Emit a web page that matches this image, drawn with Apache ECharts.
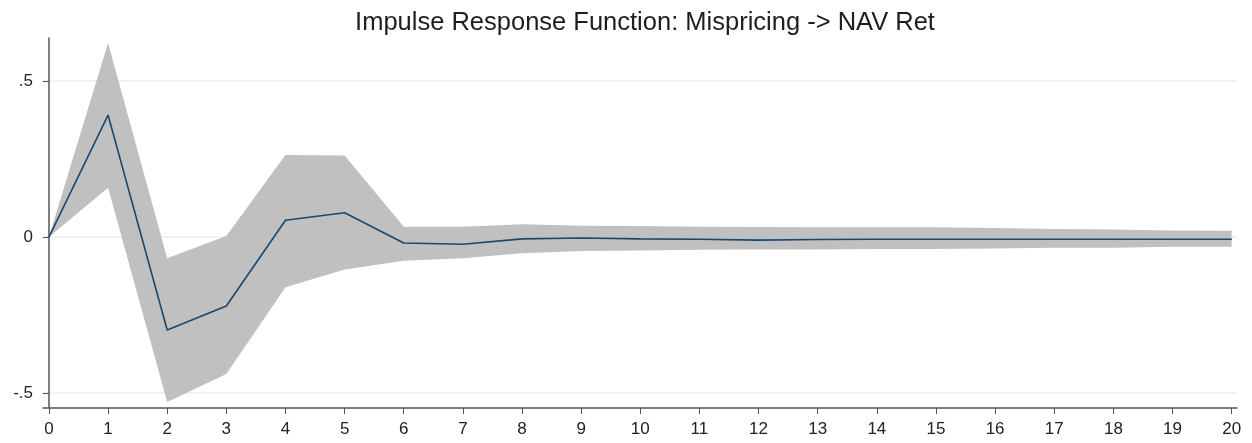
<!DOCTYPE html>
<html>
<head>
<meta charset="utf-8">
<script src="https://cdn.jsdelivr.net/npm/echarts@6/dist/echarts.min.js"></script>
<style>
  html, body { margin: 0; padding: 0; background: #fff; }
  #chart { width: 1252px; height: 443px; }
</style>
</head>
<body>
<div id="chart"></div>
<script>
// horizon steps
const steps = [0, 1, 2, 3, 4, 5, 6, 7, 8, 9, 10, 11, 12, 13, 14, 15, 16, 17, 18, 19, 20];
// impulse response (Mispricing -> NAV Ret)
const irf = [0, 0.391, -0.298, -0.221, 0.054, 0.078, -0.019, -0.023, -0.006, -0.003, -0.006,
    -0.007, -0.010, -0.008, -0.007, -0.007, -0.007, -0.007, -0.007, -0.007, -0.007];
// confidence band
const upper = [0, 0.622, -0.068, 0.003, 0.263, 0.261, 0.033, 0.033, 0.041, 0.036, 0.035,
    0.033, 0.032, 0.031, 0.031, 0.031, 0.029, 0.026, 0.024, 0.021, 0.020];
const lower = [0, 0.158, -0.529, -0.439, -0.161, -0.104, -0.076, -0.068, -0.052, -0.045, -0.043,
    -0.041, -0.040, -0.040, -0.038, -0.038, -0.037, -0.034, -0.034, -0.031, -0.031];
const yTicks = [-0.5, 0, 0.5];

const fmtY = (v) => {
    if (v === 0) return '0';
    return String(v).replace('0.', '.');
};

const chart = echarts.init(document.getElementById('chart'), null, { renderer: 'canvas' });

// band polygon: upper edge left->right, lower edge right->left
const renderBand = (params, api) => {
    if (params.dataIndex !== 0) return;
    const pts = [];
    steps.forEach((s, i) => pts.push(api.coord([s, upper[i]])));
    for (let i = steps.length - 1; i >= 0; i--) pts.push(api.coord([steps[i], lower[i]]));
    return {
        type: 'polygon',
        shape: { points: pts },
        style: { fill: '#c0c0c0' }
    };
};

const option = {
    backgroundColor: '#ffffff',
    animation: false,
    title: {
        text: 'Impulse Response Function: Mispricing -> NAV Ret',
        left: 640,
        textAlign: 'center',
        top: 5,
        textStyle: {
            fontFamily: 'Liberation Sans',
            fontSize: 25.5,
            fontWeight: 'normal',
            color: '#1e1e1e'
        }
    },
    grid: {
        left: 43,
        right: 15,
        top: 38,
        bottom: 35
    },
    xAxis: {
        type: 'value',
        min: -0.1,
        max: 20.09,
        axisLine: { onZero: false, lineStyle: { color: '#555', width: 1.5 } },
        axisTick: {
            customValues: steps,
            length: 6,
            lineStyle: { color: '#555' }
        },
        axisLabel: {
            customValues: steps,
            color: '#222',
            fontFamily: 'Liberation Sans',
            fontSize: 17,
            margin: 13
        },
        splitLine: { show: false }
    },
    yAxis: {
        type: 'value',
        min: -0.548,
        max: 0.638,
        axisLine: { show: true, lineStyle: { color: '#555', width: 1.5 } },
        axisTick: {
            show: true,
            customValues: yTicks,
            length: 6,
            lineStyle: { color: '#555' }
        },
        axisLabel: {
            customValues: yTicks,
            formatter: fmtY,
            color: '#222',
            fontFamily: 'Liberation Sans',
            fontSize: 17,
            margin: 10
        },
        splitLine: { show: true, lineStyle: { color: '#ececec', width: 1.5 } }
    },
    series: [
        {
            name: 'band',
            type: 'custom',
            renderItem: renderBand,
            data: [0],
            z: 2
        },
        {
            name: 'irf',
            type: 'line',
            data: steps.map((s, i) => [s, irf[i]]),
            showSymbol: false,
            lineStyle: { color: '#1a476f', width: 1.6 },
            z: 3
        }
    ]
};

chart.setOption(option);
</script>
</body>
</html>
